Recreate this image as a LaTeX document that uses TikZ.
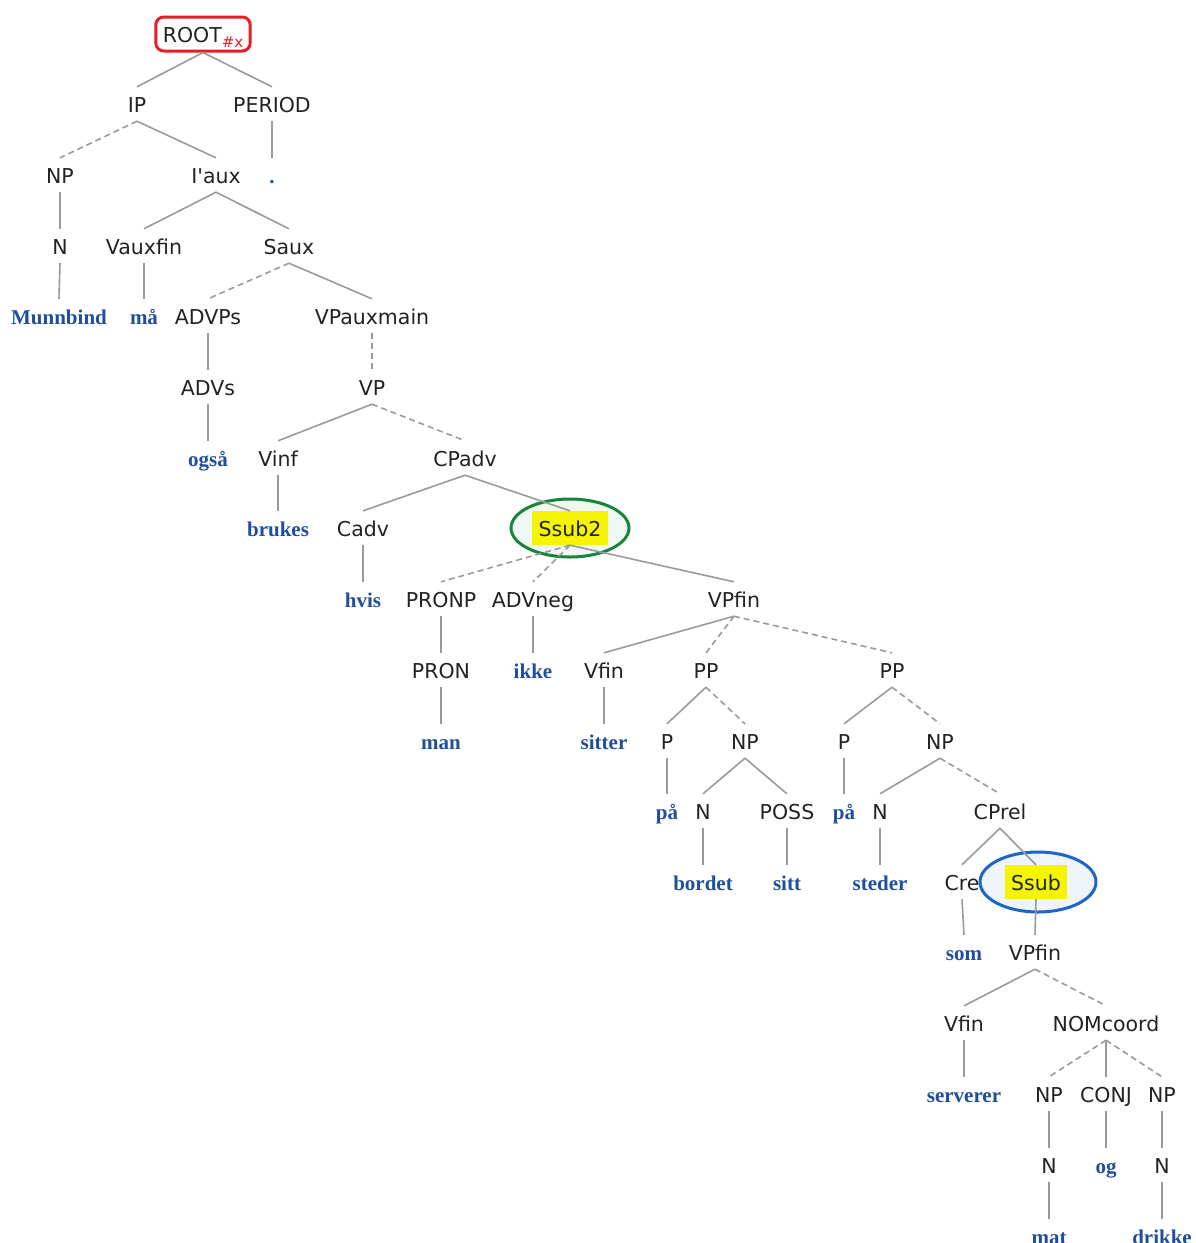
\documentclass[tikz,border=0pt]{standalone}
\usepackage{fontspec}
\setmainfont{DejaVu Sans}[Ligatures=TeXOff]
\newfontfamily\wordfont{Liberation Serif}
\definecolor{labtext}{HTML}{222222}
\definecolor{wordblue}{HTML}{1F4E9C}
\definecolor{edgegrey}{HTML}{9A9A9A}
\definecolor{rootred}{HTML}{E41E26}
\definecolor{ringgreen}{HTML}{16843A}
\definecolor{ringblue}{HTML}{1E66C6}
\definecolor{hlyellow}{HTML}{F5F500}
\begin{document}
\begin{tikzpicture}[x=1pt,y=-1pt,
  lab/.style={font=\fontsize{20.5}{24}\selectfont, text=labtext, inner ysep=0pt,
    inner xsep=2pt, minimum height=34pt, text height=18pt, text depth=1pt},
  wd/.style={lab, font=\wordfont\bfseries\fontsize{21}{24}\selectfont, text=wordblue},
  hl/.style={fill=hlyellow, inner xsep=7pt},
  br/.style={draw=edgegrey, line width=1.6pt},
  dbr/.style={br, dash pattern=on 6pt off 4pt}]
\useasboundingbox (0,0) rectangle (1195,1243);

% highlight rings
\draw[ringgreen, line width=3pt, fill=ringgreen!6] (570,528) ellipse [x radius=59pt, y radius=29pt];
\draw[ringblue, line width=3pt, fill=ringblue!7] (1038,882) ellipse [x radius=58pt, y radius=30pt];

% category labels and words
\node[lab, draw=rootred, line width=3pt, rounded corners=8pt, inner xsep=7pt] (root) at (203,34)
  {ROOT\raisebox{-5pt}{\fontsize{15}{15}\selectfont\color{rootred}\#x}};
\node[lab] (ip) at (137,104) {IP};
\node[lab] (period) at (272,104) {PERIOD};
\node[lab] (np1) at (60,175) {NP};
\node[lab] (iaux) at (216,175) {I'aux};
\node[wd] (dot) at (272,175) {.};
\node[lab] (n1) at (60,246) {N};
\node[lab] (vauxfin) at (144,246) {Vauxfin};
\node[lab] (saux) at (289,246) {Saux};
\node[wd] (munnbind) at (59,316) {Munnbind};
\node[wd] (maa) at (144,316) {må};
\node[lab] (advps) at (208,316) {ADVPs};
\node[lab] (vpauxmain) at (372,316) {VPauxmain};
\node[lab] (advs) at (208,387) {ADVs};
\node[lab] (vp) at (372,387) {VP};
\node[wd] (ogsaa) at (208,458) {også};
\node[lab] (vinf) at (278,458) {Vinf};
\node[lab] (cpadv) at (465,458) {CPadv};
\node[wd] (brukes) at (278,528) {brukes};
\node[lab] (cadv) at (363,528) {Cadv};
\node[lab, hl] (ssubtwo) at (570,528) {Ssub2};
\node[wd] (hvis) at (363,599) {hvis};
\node[lab] (pronp) at (441,599) {PRONP};
\node[lab] (advneg) at (533,599) {ADVneg};
\node[lab] (vpfin1) at (734,599) {VPfin};
\node[lab] (pron) at (441,670) {PRON};
\node[wd] (ikke) at (533,670) {ikke};
\node[lab] (vfin1) at (604,670) {Vfin};
\node[lab] (ppa) at (706,670) {PP};
\node[lab] (ppb) at (892,670) {PP};
\node[wd] (man) at (441,741) {man};
\node[wd] (sitter) at (604,741) {sitter};
\node[lab] (pa) at (667,741) {P};
\node[lab] (npa) at (745,741) {NP};
\node[lab] (pb) at (844,741) {P};
\node[lab] (npb) at (940,741) {NP};
\node[wd] (paa1) at (667,811) {på};
\node[lab] (na) at (703,811) {N};
\node[lab] (poss) at (787,811) {POSS};
\node[wd] (paa2) at (844,811) {på};
\node[lab] (nb) at (880,811) {N};
\node[lab] (cprel) at (1000,811) {CPrel};
\node[wd] (bordet) at (703,882) {bordet};
\node[wd] (sitt) at (787,882) {sitt};
\node[wd] (steder) at (880,882) {steder};
\node[lab] (crel) at (962,882) {Cre};
\node[lab, hl, inner xsep=6.5pt] (ssub) at (1036,882) {Ssub};
\node[wd] (som) at (964,952) {som};
\node[lab] (vpfin2) at (1035,952) {VPfin};
\node[lab] (vfin2) at (964,1023) {Vfin};
\node[lab] (nomcoord) at (1106,1023) {NOMcoord};
\node[wd] (serverer) at (964,1094) {serverer};
\node[lab] (npc) at (1049,1094) {NP};
\node[lab] (conj) at (1106,1094) {CONJ};
\node[lab] (npd) at (1162,1094) {NP};
\node[lab] (nc) at (1049,1165) {N};
\node[wd] (og) at (1106,1165) {og};
\node[lab] (nd) at (1162,1165) {N};
\node[wd] (mat) at (1049,1236) {mat};
\node[wd] (drikke) at (1162,1236) {drikke};

% solid branches
\foreach \p/\c in {root/ip, root/period, ip/iaux, period/dot, np1/n1, n1/munnbind,
  iaux/vauxfin, iaux/saux, vauxfin/maa, saux/vpauxmain, advps/advs, advs/ogsaa,
  vp/vinf, vinf/brukes, cpadv/cadv, cpadv/ssubtwo, cadv/hvis, ssubtwo/vpfin1,
  pronp/pron, pron/man, advneg/ikke, vpfin1/vfin1, vfin1/sitter, ppa/pa, pa/paa1,
  npa/na, npa/poss, na/bordet, poss/sitt, ppb/pb, pb/paa2, npb/nb, nb/steder,
  cprel/crel, cprel/ssub, crel/som, ssub/vpfin2, vpfin2/vfin2, vfin2/serverer,
  nomcoord/conj, npc/nc, nc/mat, conj/og, npd/nd, nd/drikke}
  \draw[br] (\p.south) -- (\c.north);

% dashed branches
\foreach \p/\c in {ip/np1, saux/advps, vpauxmain/vp, vp/cpadv, ssubtwo/pronp,
  ssubtwo/advneg, vpfin1/ppa, vpfin1/ppb, ppa/npa, ppb/npb, npb/cprel,
  vpfin2/nomcoord, nomcoord/npc, nomcoord/npd}
  \draw[dbr] (\p.south) -- (\c.north);
\end{tikzpicture}
\end{document}
